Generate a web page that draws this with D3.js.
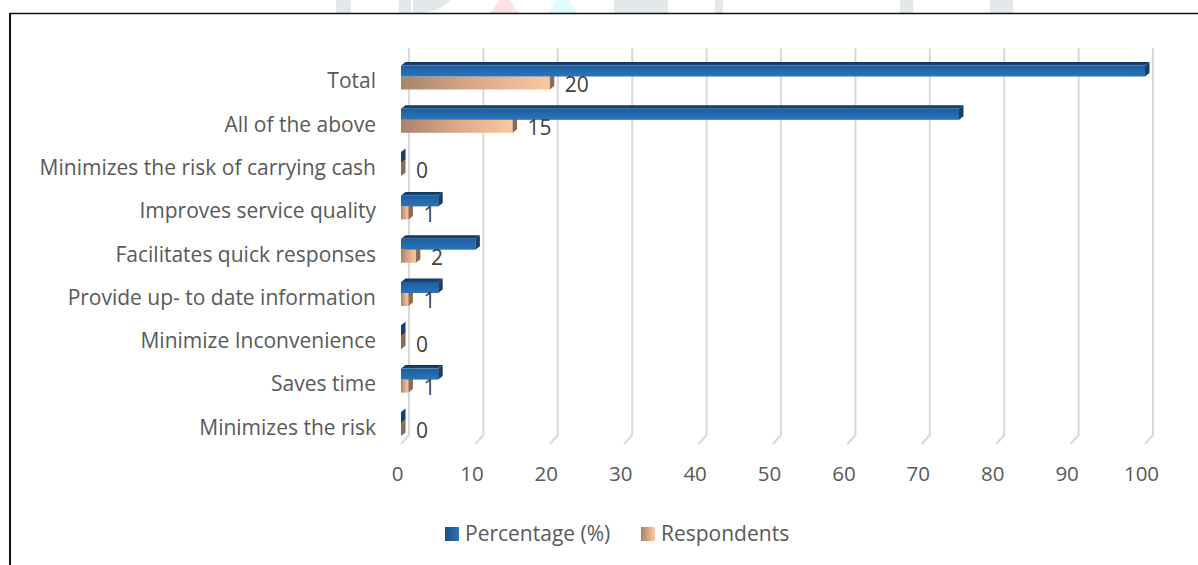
<!DOCTYPE html>
<html><head><meta charset="utf-8">
<script src="https://cdn.jsdelivr.net/npm/d3@7"></script>
<style>
html,body{margin:0;padding:0;background:#fff;}
svg{display:block;}
text{font-family:"Open Sans",sans-serif;}
</style></head>
<body><svg id="c" width="1198" height="565"></svg>
<script>
const categories = ["Total","All of the above","Minimizes the risk of carrying cash","Improves service quality","Facilitates quick responses","Provide up- to date information","Minimize Inconvenience","Saves time","Minimizes the risk"];
const percentage = [100,75,0,5,10,5,0,5,0];
const respondents = [20,15,0,1,2,1,0,1,0];
const tickValues = [0,10,20,30,40,50,60,70,80,90,100];
const seriesNames = ["Percentage (%)","Respondents"];

const FONT = "'Open Sans',sans-serif";
const FS = 21;
const svg = d3.select("#c");
const defs = svg.append("defs");

function lin(id, x2, y2, stops){
  const g = defs.append("linearGradient").attr("id",id).attr("x1",0).attr("y1",0).attr("x2",x2).attr("y2",y2);
  stops.forEach(s=>g.append("stop").attr("offset",s[0]).attr("stop-color",s[1]));
}
lin("blueFront",0,1,[[0,"#1d5c9c"],[0.5,"#236aae"],[1,"#2c74ba"]]);
lin("blueTop",0,1,[[0,"#0f3558"],[1,"#1a4a7c"]]);
lin("orangeFront",1,0,[[0,"#a8836b"],[0.5,"#dca987"],[1,"#f9c9a1"]]);
lin("legBlue",1,0,[[0,"#1a4f86"],[1,"#2e75b6"]]);
lin("legOrange",1,0,[[0,"#a8836b"],[1,"#f9c9a1"]]);

// watermark fragments above the frame
const wm = svg.append("g");
[[336,0,15,13,"#e3e8ea"],[399,0,12,13,"#e3e8ea"],[614,0,34,13,"#e3e8ea"],[648,0,20,13,"#e3e8ea"],[715,0,8,13,"#e3e8ea"],[900,0,13,13,"#e3e8ea"],[990,0,23,13,"#e3e8ea"]].forEach(r=>{
  wm.append("rect").attr("x",r[0]).attr("y",r[1]).attr("width",r[2]).attr("height",r[3]).attr("fill",r[4]);
});
wm.append("path").attr("d","M413,0 L450,0 Q440,12 420,13 L413,13 Z").attr("fill","#e3e8ea");
wm.append("path").attr("d","M500,0 L510,0 L518,13 L490,13 Z").attr("fill","#fde0e0");
wm.append("path").attr("d","M557,0 L569,0 L577,13 L549,13 Z").attr("fill","#e0fcfc");

// frame lines
svg.append("line").attr("x1",9).attr("x2",1198).attr("y1",13.5).attr("y2",13.5).attr("stroke","#111").attr("stroke-width",1.5);
svg.append("line").attr("x1",10).attr("x2",10).attr("y1",13).attr("y2",565).attr("stroke","#111").attr("stroke-width",2);

const x = d3.scaleLinear().domain([0,100]).range([401,1145]);
const y = d3.scaleBand().domain(categories).range([62,62+43.3*9]).paddingInner(0).paddingOuter(0);
const dx = 8, gridTop = 48, gridBot = 435, floorY = 444;

const grid = svg.append("g");
tickValues.forEach(v=>{
  grid.append("path").attr("d",`M${x(v)+dx},${gridTop} L${x(v)+dx},${gridBot} L${x(v)},${floorY}`)
    .attr("fill","none").attr("stroke","#d9d9d9").attr("stroke-width",2);
});

const axisG = svg.append("g").attr("transform",`translate(-4,${floorY+22})`)
  .call(d3.axisBottom(x).tickValues(tickValues).tickSize(0).tickPadding(0));
axisG.select(".domain").remove();
axisG.selectAll("text").attr("font-size",20.5).attr("fill","#595959").attr("font-family",FONT);

svg.append("g").selectAll("text").data(categories).join("text")
  .attr("x",376).attr("y",d=>y(d)+19).attr("dy","0.35em").attr("text-anchor","end")
  .attr("font-size",FS).attr("fill","#595959").text(d=>d);

const bdx = 4.5, bdy = 3.5;
const blueH = 14.5, orH = 13;
const bars = svg.append("g");
categories.forEach((c,i)=>{
  const top = y(c);
  const ox0 = x(0), ox1 = x(respondents[i]);
  const oy0 = top+blueH, oy1 = oy0+orH;
  if (ox1-ox0>0.5) bars.append("rect").attr("x",ox0).attr("y",oy0).attr("width",ox1-ox0).attr("height",orH).attr("fill","url(#orangeFront)");
  bars.append("path").attr("d",`M${ox1},${oy0} L${ox1+bdx},${oy0-bdy} L${ox1+bdx},${oy1-bdy} L${ox1},${oy1} Z`).attr("fill","#8f6a52");
  const bx0 = x(0), bx1 = x(percentage[i]);
  const fy0 = top+bdy, fy1 = top+blueH;
  if (bx1-bx0>0.5) {
    bars.append("path").attr("d",`M${bx0},${fy0} L${bx0+bdx},${top} L${bx1+bdx},${top} L${bx1},${fy0} Z`).attr("fill","url(#blueTop)");
    bars.append("rect").attr("x",bx0).attr("y",fy0).attr("width",bx1-bx0).attr("height",fy1-fy0).attr("fill","url(#blueFront)");
  }
  bars.append("path").attr("d",`M${bx1},${fy0} L${bx1+bdx},${top} L${bx1+bdx},${fy1-bdy} L${bx1},${fy1} Z`).attr("fill","#163f69");
  bars.append("text").attr("x",ox1+15).attr("y",oy0+orH/2+1.5).attr("dy","0.35em")
    .attr("font-size",FS).attr("fill","#404040").text(respondents[i]);
});

const leg = svg.append("g");
const legItems = [{name:seriesNames[0],fill:"url(#legBlue)",x:445},{name:seriesNames[1],fill:"url(#legOrange)",x:641}];
legItems.forEach(l=>{
  leg.append("rect").attr("x",l.x).attr("y",527).attr("width",14).attr("height",14).attr("fill",l.fill);
  leg.append("text").attr("x",l.x+20).attr("y",534).attr("dy","0.35em").attr("font-size",FS).attr("fill","#595959").text(l.name);
});
</script></body></html>
